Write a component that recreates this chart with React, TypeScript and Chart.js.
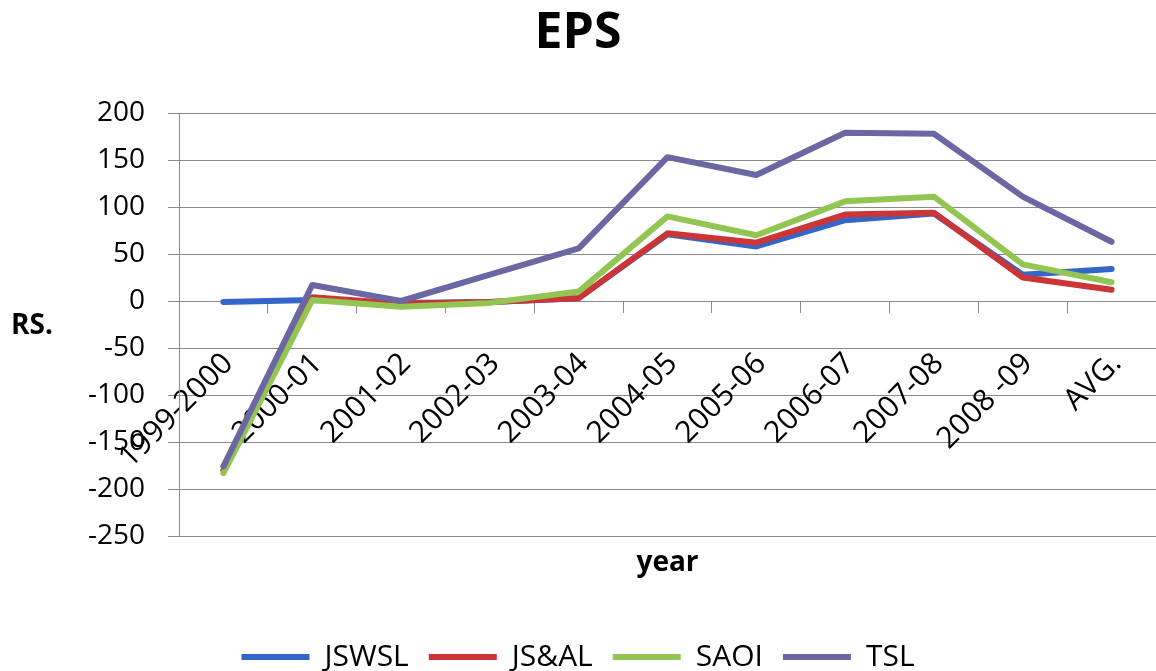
import React, { useEffect, useRef } from "react";
import { Chart, registerables } from "chart.js";

Chart.register(...registerables);

const chartTitle = "EPS";
const xTitle = "year";
const yTitle = "RS.";

const categories = [
  "1999-2000",
  "2000-01",
  "2001-02",
  "2002-03",
  "2003-04",
  "2004-05",
  "2005-06",
  "2006-07",
  "2007-08",
  "2008 -09",
  "AVG.",
];

const jswsl = [-1, 1, -2, -1, 3, 71, 58, 86, 93, 28, 34];
const jsal = [-180, 4, -3, -1, 3, 72, 62, 92, 94, 25, 12];
const saoi = [-183, 1, -6, -2, 10, 90, 70, 106, 111, 39, 20];
const tsl = [-176, 17, 0, 28, 56, 153, 134, 179, 178, 111, 63];

const seriesNames = ["JSWSL", "JS&AL", "SAOI", "TSL"];
const seriesColors = ["#3465c8", "#cc3535", "#93c553", "#6b67a3"];

const yMin = -250;
const yMax = 200;
const yStep = 50;

const FONT = "'Open Sans', 'Noto Sans', sans-serif";
const GRID = "#8a8a8a";

const yTitlePlugin = {
  id: "yTitleHorizontal",
  afterDraw(chart: any) {
    const { ctx } = chart;
    const yScale = chart.scales.y;
    ctx.save();
    ctx.font = `bold 28px ${FONT}`;
    ctx.fillStyle = "#000";
    ctx.textAlign = "center";
    ctx.textBaseline = "middle";
    ctx.fillText(yTitle, 32, yScale.getPixelForValue(0) + 25);
    ctx.restore();
  },
};

export default function App() {
  const ref = useRef<HTMLCanvasElement | null>(null);

  useEffect(() => {
    if (!ref.current) return;
    const all = [jswsl, jsal, saoi, tsl];
    const datasets = all.map((d, i) => ({
      label: seriesNames[i],
      data: d,
      borderColor: seriesColors[i],
      backgroundColor: seriesColors[i],
      borderWidth: 6,
      borderCapStyle: "round" as const,
      borderJoinStyle: "round" as const,
      pointRadius: 0,
      pointHoverRadius: 0,
      pointStyle: "line" as const,
      tension: 0,
      order: 3 - i,
    }));

    const chart = new Chart(ref.current, {
      type: "line",
      data: { labels: categories, datasets },
      plugins: [yTitlePlugin],
      options: {
        responsive: false,
        animation: false,
        events: [],
        layout: { padding: { left: 0, right: 0, top: 0, bottom: -11 } },
        plugins: {
          tooltip: { enabled: false },
          title: {
            display: true,
            text: chartTitle,
            color: "#000",
            font: { family: FONT, size: 50, weight: "bold" },
            padding: { top: 4, bottom: 49 },
          },
          legend: {
            display: true,
            position: "bottom",
            labels: {
              usePointStyle: true,
              pointStyleWidth: 68,
              color: "#000",
              font: { family: FONT, size: 30 },
              padding: 20,
              sort: (a: any, b: any) => a.datasetIndex - b.datasetIndex,
            },
          },
        },
        scales: {
          x: {
            type: "category",
            position: { y: 0 } as any,
            offset: true,
            grid: {
              display: true,
              offset: true,
              drawOnChartArea: false,
              drawTicks: true,
              tickLength: 11,
              color: GRID,
            },
            border: { display: true, color: GRID },
            ticks: {
              autoSkip: false,
              minRotation: 45,
              maxRotation: 45,
              padding: 34,
              labelOffset: 5,
              color: "#000",
              font: { family: FONT, size: 30 },
            },
            afterFit: (s: any) => {
              s.paddingLeft = 0;
              s.paddingRight = 0;
            },
          },
          x2: {
            type: "category",
            position: "bottom",
            offset: true,
            grid: { display: false, drawTicks: false },
            border: { display: false },
            ticks: { display: false },
            title: {
              display: true,
              text: xTitle,
              color: "#000",
              font: { family: FONT, size: 28, weight: "bold" },
              padding: { top: 0, bottom: 42 },
            },
            afterFit: (s: any) => {
              s.height = 86;
              s.paddingLeft = 0;
              s.paddingRight = 0;
            },
          },
          y: {
            type: "linear",
            min: yMin,
            max: yMax,
            grid: {
              color: GRID,
              tickLength: 11,
              drawTicks: true,
            },
            border: { display: true, color: GRID },
            ticks: {
              stepSize: yStep,
              padding: 23,
              color: "#000",
              font: { family: FONT, size: 28 },
            },
            afterFit: (s: any) => {
              s.width = 179;
            },
          },
        },
      },
    });
    return () => chart.destroy();
  }, []);

  return (
    <div style={{ position: "fixed", left: 0, top: 0, width: 1156, height: 671, background: "#fff" }}>
      <canvas ref={ref} width={1156} height={671} style={{ width: 1156, height: 671 }} />
    </div>
  );
}
